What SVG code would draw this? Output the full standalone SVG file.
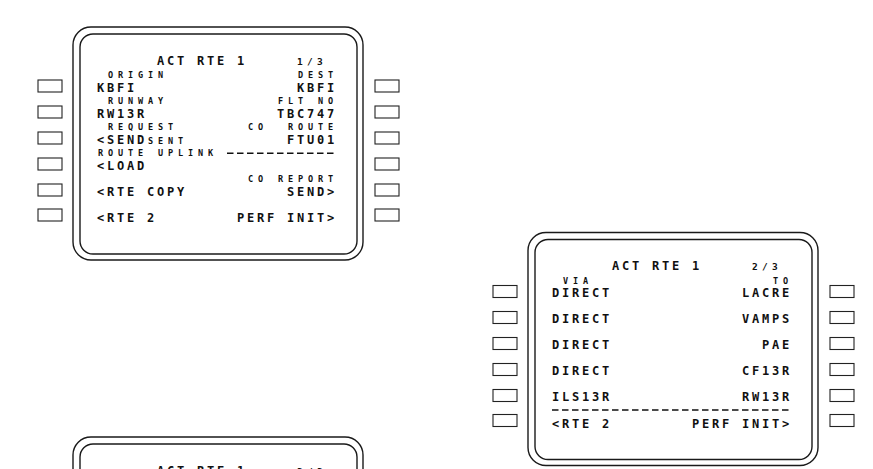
<svg xmlns="http://www.w3.org/2000/svg" xmlns:xlink="http://www.w3.org/1999/xlink" width="873" height="469" viewBox="0 0 873 469">
  <style>
    .frame { fill: none; stroke: #1a1a1a; stroke-width: 1.4; }
    .key { fill: #ffffff; stroke: #222222; stroke-width: 1.1; }
    text { fill: #111111; font-family: "DejaVu Sans Mono", "Liberation Mono", monospace; font-weight: bold; }
    .big { font-size: 12px; letter-spacing: 2.78px; }
    .sm { font-size: 8.5px; letter-spacing: 4.88px; }
    .pg { font-size: 9.5px; letter-spacing: 4.28px; }
    .dash { fill: none; stroke: #111111; stroke-width: 1.5; stroke-dasharray: 6.5 3.5; }
  </style>
  <defs>
    <g id="cdu-frame">
      <rect class="frame" x="73" y="27" width="290" height="233" rx="18" ry="18"/>
      <rect class="frame" x="80" y="34" width="277" height="220" rx="13" ry="13"/>
    </g>
    <g id="cdu-keys">
      <rect class="key" x="38" y="80" width="24" height="12"/>
      <rect class="key" x="38" y="106" width="24" height="12"/>
      <rect class="key" x="38" y="132" width="24" height="12"/>
      <rect class="key" x="38" y="158" width="24" height="12"/>
      <rect class="key" x="38" y="184" width="24" height="12"/>
      <rect class="key" x="38" y="209" width="24" height="12"/>
      <rect class="key" x="375" y="80" width="24" height="12"/>
      <rect class="key" x="375" y="106" width="24" height="12"/>
      <rect class="key" x="375" y="132" width="24" height="12"/>
      <rect class="key" x="375" y="158" width="24" height="12"/>
      <rect class="key" x="375" y="184" width="24" height="12"/>
      <rect class="key" x="375" y="209" width="24" height="12"/>
    </g>
  </defs>

  <rect x="0" y="0" width="873" height="469" fill="#ffffff"/>

  <g id="cdu-rte1-page1">
    <use xlink:href="#cdu-frame"/>
    <use xlink:href="#cdu-keys"/>
    <text class="big" x="157" y="64.5">ACT RTE 1</text>
    <text class="pg" x="297" y="64.5">1/3</text>
    <text class="sm" x="108" y="78">ORIGIN</text>
    <text class="sm" x="298" y="78">DEST</text>
    <text class="big" x="97" y="91.5">KBFI</text>
    <text class="big" x="297" y="91.5">KBFI</text>
    <text class="sm" x="108" y="104.1">RUNWAY</text>
    <text class="sm" x="278" y="104.1">FLT NO</text>
    <text class="big" x="97" y="117.6">RW13R</text>
    <text class="big" x="277" y="117.6">TBC747</text>
    <text class="sm" x="108" y="130.2">REQUEST</text>
    <text class="sm" y="130.2"><tspan x="248">CO</tspan><tspan x="288">ROUTE</tspan></text>
    <text y="143.7"><tspan class="big" x="97">&lt;SEND</tspan><tspan class="sm" x="148">SENT</tspan></text>
    <text class="big" x="287" y="143.7">FTU01</text>
    <text class="sm" x="98" y="156.3">ROUTE UPLINK</text>
    <line class="dash" x1="227" y1="153.3" x2="334" y2="153.3"/>
    <text class="big" x="97" y="169.8">&lt;LOAD</text>
    <text class="sm" x="248" y="182.4">CO REPORT</text>
    <text class="big" x="97" y="195.9">&lt;RTE COPY</text>
    <text class="big" x="287" y="195.9">SEND&gt;</text>
    <text class="big" x="97" y="222">&lt;RTE 2</text>
    <text class="big" x="237" y="222">PERF INIT&gt;</text>
  </g>

  <g id="cdu-rte1-page2" transform="translate(455,205.5)">
    <use xlink:href="#cdu-frame"/>
    <use xlink:href="#cdu-keys"/>
    <text class="big" x="157" y="64.5">ACT RTE 1</text>
    <text class="pg" x="297" y="64.5">2/3</text>
    <text class="sm" x="108" y="78">VIA</text>
    <text class="sm" x="318" y="78">TO</text>
    <text class="big" x="97" y="91.5">DIRECT</text>
    <text class="big" x="287" y="91.5">LACRE</text>
    <text class="big" x="97" y="117.6">DIRECT</text>
    <text class="big" x="287" y="117.6">VAMPS</text>
    <text class="big" x="97" y="143.7">DIRECT</text>
    <text class="big" x="307" y="143.7">PAE</text>
    <text class="big" x="97" y="169.8">DIRECT</text>
    <text class="big" x="287" y="169.8">CF13R</text>
    <text class="big" x="97" y="195.9">ILS13R</text>
    <text class="big" x="287" y="195.9">RW13R</text>
    <line class="dash" x1="97" y1="204.5" x2="334" y2="204.5"/>
    <text class="big" x="97" y="222">&lt;RTE 2</text>
    <text class="big" x="237" y="222">PERF INIT&gt;</text>
  </g>

  <g id="cdu-rte1-page3" transform="translate(0,410)">
    <use xlink:href="#cdu-frame"/>
    <text class="big" x="157" y="64.5">ACT RTE 1</text>
    <text class="pg" x="297" y="64.5">3/3</text>
  </g>
</svg>
